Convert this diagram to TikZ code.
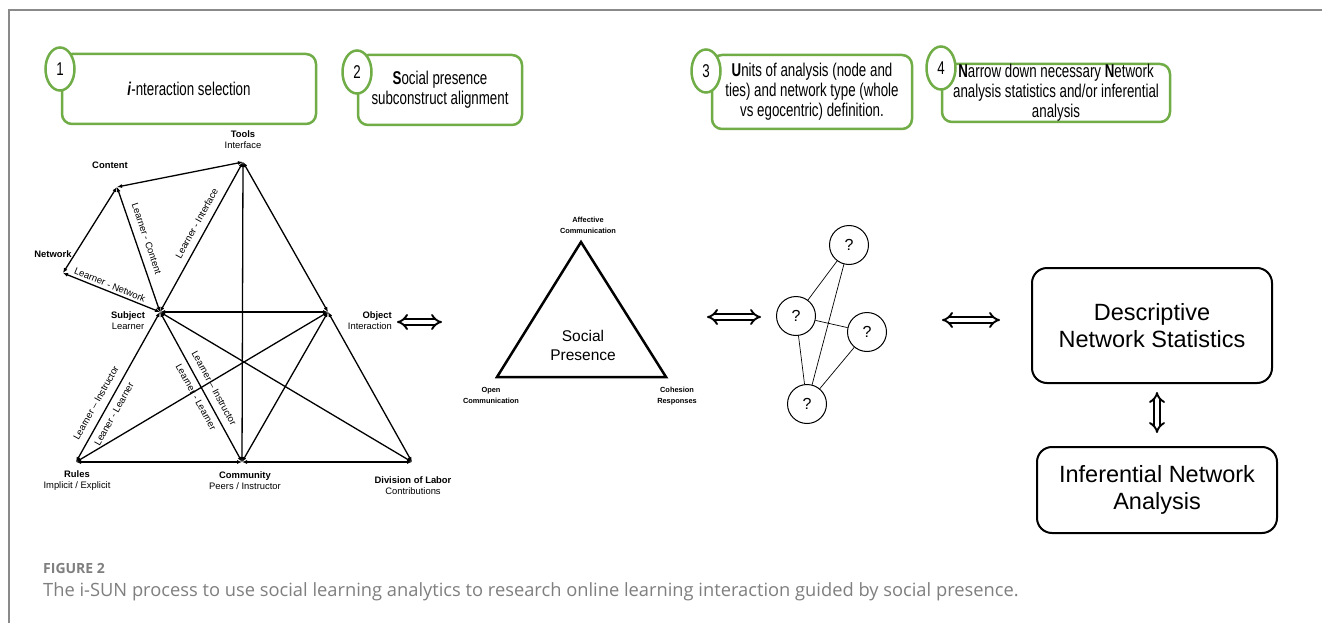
\documentclass[tikz,border=0pt]{standalone}
\usepackage{fontspec}
\setmainfont{Liberation Sans}
\newfontfamily\hdrfont{Liberation Sans}[FakeStretch=0.72]
\newfontfamily\capfont{Open Sans}
\usetikzlibrary{arrows.meta,shapes.geometric}
\definecolor{stepgreen}{HTML}{70AD47}
\definecolor{framegray}{HTML}{8A8A8A}
\definecolor{capgray}{HTML}{7F7F7F}

\begin{document}
\begin{tikzpicture}[x=1pt,y=-1pt,
  stepbox/.style={draw=stepgreen, line width=2.5pt, rounded corners=10pt, fill=white,
    align=center, inner sep=0pt, font=\hdrfont\fontsize{18.5}{20}\selectfont},
  stepnum/.style={ellipse, draw=stepgreen, line width=2.5pt, fill=white, inner sep=0pt,
    minimum width=29pt, minimum height=43pt, font=\hdrfont\fontsize{18.5}{20}\selectfont},
  edge/.style={line width=1.3pt, {Latex[length=5pt,width=4pt]}-{Latex[length=5pt,width=4pt]}},
  vlabel/.style={align=center, inner sep=0pt, font=\fontsize{9.4}{11}\selectfont},
  elabel/.style={inner sep=0pt, font=\fontsize{9.5}{11}\selectfont},
  splabel/.style={align=center, inner sep=0pt, font=\bfseries\fontsize{7.4}{11}\selectfont},
  qnode/.style={circle, draw, line width=1pt, minimum size=39pt, inner sep=0pt,
    font=\fontsize{16}{18}\selectfont},
  hollow/.style={double, double distance=3.4pt, line width=1.9pt, {Implies[scale=1.25]}-{Implies[scale=1.25]}},
  resultbox/.style={draw, line width=2pt, rounded corners=15pt, align=center,
    inner sep=0pt, font=\fontsize{23.5}{27.5}\selectfont}]

\useasboundingbox (0,0) rectangle (1322,623);
\fill[white] (0,0) rectangle (1322,623);

% frame
\draw[framegray, line width=2pt] (9,623) -- (9,10) -- (1322,10);

% ---- step headers ----
\node[stepbox, minimum width=254pt, minimum height=70pt] (b1) at (189,89)
  {\textbf{\textit{i}}-nteraction selection};
\node[stepnum] (n1) at (60,69) {1};

\node[stepbox, minimum width=164pt, minimum height=70pt] (b2) at (440,90)
  {\textbf{S}ocial presence\\subconstruct alignment};
\node[stepnum] (n2) at (357,72) {2};

\node[stepbox, minimum width=200pt, minimum height=74pt] (b3) at (812,92)
  {\textbf{U}nits of analysis (node and\\ties) and network type (whole\\vs egocentric) definition.};
\node[stepnum] (n3) at (706,71) {3};

\node[stepbox, minimum width=228pt, minimum height=58pt] (b4) at (1056,93)
  {\textbf{N}arrow down necessary \textbf{N}etwork\\analysis statistics and/or inferential\\analysis};
\node[stepnum] (n4) at (941,68) {4};

% ---- interaction triangle ----
\coordinate (T) at (243,162);
\coordinate (C) at (117,187);
\coordinate (N) at (63,273);
\coordinate (S) at (160,312);
\coordinate (O) at (328,312);
\coordinate (R) at (76,462);
\coordinate (M) at (242,462);
\coordinate (D) at (412,462);

\draw[edge] (T) -- (C);
\draw[edge] (C) -- (N);
\draw[edge] (N) -- (S);
\draw[edge] (S) -- (C);
\draw[edge] (S) -- (T);
\draw[edge] (T) -- (M);
\draw[edge] (T) -- (O);
\draw[edge] (S) -- (O);
\draw[edge] (O) -- (D);
\draw[edge] (S) -- (R);
\draw[edge] (R) -- (O);
\draw[edge] (S) -- (M);
\draw[edge] (S) -- (D);
\draw[edge] (O) -- (M);
\draw[edge] (R) -- (M);
\draw[edge] (D) -- (M);

\node[vlabel] (lT) at (243,140) {\textbf{Tools}\\Interface};
\node[vlabel] (lC) at (110,165) {\textbf{Content}};
\node[vlabel] (lN) at (53,254) {\textbf{Network}};
\node[vlabel] (lS) at (128,321) {\textbf{Subject}\\Learner};
\node[vlabel, align=right, anchor=east] (lO) at (392,321) {\textbf{Object}\\Interaction};
\node[vlabel] (lR) at (77,480.5) {\textbf{Rules}\\Implicit / Explicit};
\node[vlabel] (lM) at (245,480.5) {\textbf{Community}\\Peers / Instructor};
\node[vlabel] (lD) at (413,485.5) {\textbf{Division of Labor}\\Contributions};

\node[elabel, rotate=-71.2] (eSC) at (146.7,238.3) {Learner - Content};
\node[elabel, rotate=61.1] (eST) at (196.7,223.3) {Learner - Interface};
\node[elabel, rotate=-22.3] (eSN) at (110,285) {Learner - Network};
\node[elabel, rotate=60.75] (eSR1) at (96,403) {Learner -- Instructor};
\node[elabel, rotate=60.75] (eSR2) at (114,414) {Leaner - Learner};
\node[elabel, rotate=-61.3] (eSM1) at (214,388) {Learner -- Instructor};
\node[elabel, rotate=-61.3] (eSM2) at (196,397) {Learner - Learner};

% ---- social presence triangle ----
\coordinate (AC) at (581,242);
\coordinate (OC) at (497,377);
\coordinate (CR) at (666,377);
\draw[line width=2.5pt, line join=miter] (AC) -- (OC) -- (CR) -- cycle;
\node[align=center, inner sep=0pt, font=\fontsize{15.5}{19}\selectfont] (sp) at (583,345) {Social\\Presence};
\node[splabel] (lAC) at (588,225.5) {Affective\\Communication};
\node[splabel] (lOC) at (491,395) {Open\\Communication};
\node[splabel] (lCR) at (677,396) {Cohesion\\Responses};

% ---- network sketch ----
\node[qnode] (q1) at (849,245) {?};
\node[qnode] (q2) at (796,316) {?};
\node[qnode] (q3) at (867,332) {?};
\node[qnode] (q4) at (807,404) {?};
\draw[line width=0.7pt] (q1) -- (q2);
\draw[line width=0.7pt] (q1) -- (q4);
\draw[line width=0.7pt] (q2) -- (q3);
\draw[line width=0.7pt] (q2) -- (q4);
\draw[line width=0.7pt] (q3) -- (q4);

% ---- result boxes ----
\node[resultbox, minimum width=240pt, minimum height=115pt] (desc) at (1152,325.5)
  {Descriptive\\Network Statistics};
\node[resultbox, minimum width=240pt, minimum height=86pt] (infer) at (1157,490)
  {Inferential Network\\Analysis};

% ---- linking arrows ----
\coordinate (a1s) at (397,322);
\coordinate (a1e) at (442,322);
\coordinate (a2s) at (707,317);
\coordinate (a2e) at (761,317);
\coordinate (a3s) at (942,320);
\coordinate (a3e) at (1000,320);
\coordinate (a4s) at (1157,392);
\coordinate (a4e) at (1157,433);
\draw[hollow] (a1s) -- (a1e);
\draw[hollow] (a2s) -- (a2e);
\draw[hollow] (a3s) -- (a3e);
\draw[hollow] (a4s) -- (a4e);

% ---- caption ----
\node[anchor=west, inner sep=0pt, text=capgray, font=\capfont\bfseries\fontsize{14}{16}\selectfont]
  (figlbl) at (43,568) {FIGURE 2};
\node[anchor=west, inner sep=0pt, text=capgray, font=\capfont\fontsize{18.3}{21}\selectfont]
  (figcap) at (43,592) {The i-SUN process to use social learning analytics to research online learning interaction guided by social presence.};
\end{tikzpicture}
\end{document}
